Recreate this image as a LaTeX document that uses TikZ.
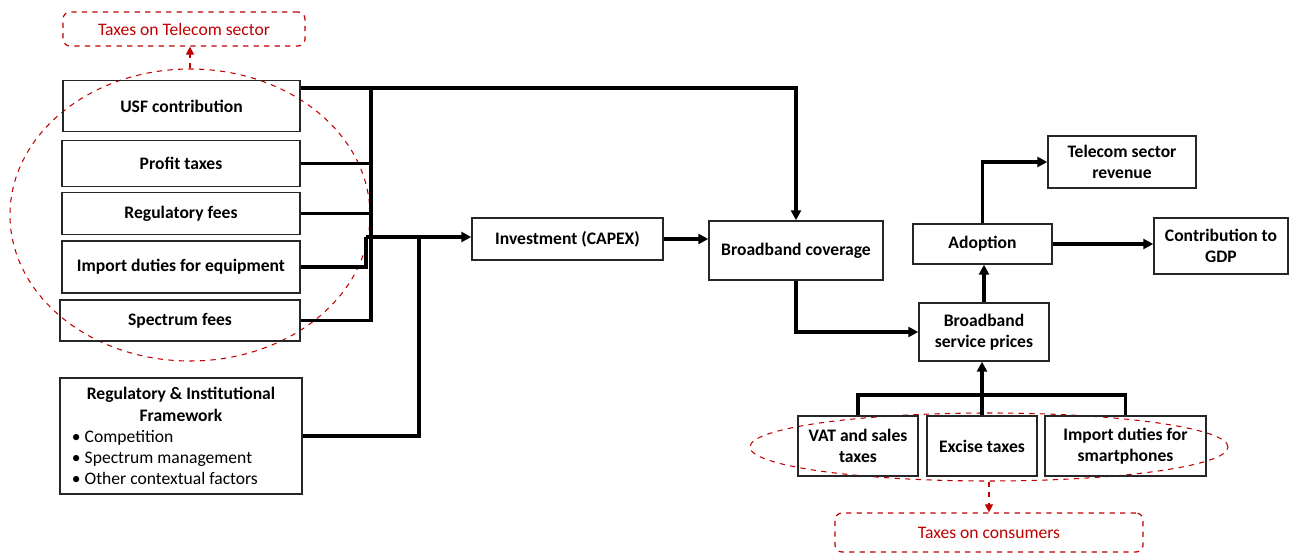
\documentclass[tikz,border=0pt]{standalone}
\usepackage{fontspec}
\setmainfont{Carlito}
\usepackage{xcolor}
\usepackage{tikz}
\usetikzlibrary{positioning,arrows.meta,shapes.geometric,calc}
\definecolor{taxred}{HTML}{C00000}
\definecolor{boxline}{HTML}{262626}
\tikzset{
  box/.style={rectangle, draw=boxline, line width=0.8pt, align=center,
              inner sep=0pt, font=\fontsize{10}{12}\selectfont\bfseries},
  tag/.style={rectangle, rounded corners=4pt, draw=taxred, dashed,
              line width=0.7pt, inner sep=0pt, text=taxred,
              font=\fontsize{10}{12}\selectfont},
  ring/.style={ellipse, draw=taxred, dashed, line width=0.6pt, inner sep=0pt},
  link/.style={line width=2.1pt, draw=black},
  arr/.style={-{Triangle[length=2mm,width=2mm]}, line width=2.1pt, draw=black},
  tagarr/.style={-{Triangle[length=1.6mm,width=1.6mm]}, line width=0.6pt,
                 draw=taxred, dashed},
}
\begin{document}
\begin{tikzpicture}[x=0.2mm, y=-0.2mm]
  \useasboundingbox (0,0) rectangle (1290,554);

  % taxes on the telecom sector
  \node[ring, minimum width=72mm, minimum height=58.4mm] (telcoell) at (190,215) {};
  \node[tag, minimum width=48.4mm, minimum height=6.8mm] (telcotax) at (184,29) {Taxes on Telecom sector};
  \node[box, minimum width=47.4mm, minimum height=10.2mm] (usf) at (181.5,106) {USF contribution};
  \node[box, minimum width=47.6mm, minimum height=9.2mm] (profit) at (181,163.5) {Profit taxes};
  \node[box, minimum width=47.6mm, minimum height=8.4mm] (regfees) at (181,213.5) {Regulatory fees};
  \node[box, minimum width=47.6mm, minimum height=10.4mm] (importeq) at (181,267) {Import duties for equipment};
  \node[box, minimum width=48mm, minimum height=8.2mm] (spectrum) at (180,320.5) {Spectrum fees};

  % framework
  \node[box, minimum width=48.4mm, minimum height=23.2mm, text width=43.6mm,
        inner xsep=2.4mm, align=left] (framework) at (181,436)
    {\spaceskip=0pt\xspaceskip=0pt
     \makebox[\linewidth]{Regulatory \& Institutional}\\
     \makebox[\linewidth]{Framework}\\
     {\mdseries \textbullet\ Competition\\
     \textbullet\ Spectrum management\\
     \textbullet\ Other contextual factors}};

  % main chain
  \node[box, minimum width=38.2mm, minimum height=8.4mm] (capex) at (567.5,239) {Investment (CAPEX)};
  \node[box, minimum width=34.8mm, minimum height=11.8mm] (coverage) at (796,250.5) {Broadband coverage};
  \node[box, minimum width=26mm, minimum height=11.6mm] (prices) at (984,332) {Broadband\\ service prices};
  \node[box, minimum width=27.8mm, minimum height=8mm] (adoption) at (982.5,244) {Adoption};
  \node[box, minimum width=29.6mm, minimum height=10.4mm] (revenue) at (1122,162) {Telecom sector\\ revenue};
  \node[box, minimum width=26.8mm, minimum height=11.2mm] (gdp) at (1221,246) {Contribution to\\ GDP};

  % taxes on consumers
  \node[ring, minimum width=95.6mm, minimum height=13.6mm] (consell) at (989,447) {};
  \node[box, minimum width=24mm, minimum height=12mm] (vat) at (858,446) {VAT and sales\\ taxes};
  \node[box, minimum width=22mm, minimum height=12mm] (excise) at (982,446) {Excise taxes};
  \node[box, minimum width=32.2mm, minimum height=12mm] (importsp) at (1125.5,446) {Import duties for\\ smartphones};
  \node[tag, minimum width=61.6mm, minimum height=7.8mm] (consumertax) at (989,532.5) {Taxes on consumers};

  % bus and joints
  \coordinate (bustop) at (371,88);
  \coordinate (busbot) at (371,322);
  \coordinate (join) at (366,237);
  \coordinate (fork) at (419,237);
  \coordinate (tbar) at (982,395);

  % connectors
  \draw[arr] (usf.east |- bustop) -| (coverage.north);
  \draw[link] (bustop) -- (busbot);
  \draw[link] (profit.east) -- (profit.east -| bustop);
  \draw[link] (regfees.east) -- (regfees.east -| bustop);
  \draw[link] (spectrum.east) -- (spectrum.east -| bustop);
  \draw[link] (importeq.east) -| (join);
  \draw[arr] (join) -- (join -| capex.west);
  \draw[link] (framework.east) -| (fork);
  \draw[arr] (capex.east) -- (capex.east -| coverage.west);
  \draw[arr] (coverage.south) |- (prices.west);
  \draw[arr] (prices.north) -- (prices.north |- adoption.south);
  \draw[arr] (adoption.north) |- (revenue.west);
  \draw[arr] (adoption.east) -- (adoption.east -| gdp.west);
  \draw[arr] (excise.north) -- (excise.north |- prices.south);
  \draw[link] (vat.north) |- (tbar) -| (importsp.north);

  % dashed pointers to the tags
  \draw[tagarr] (telcoell.north) -- (telcoell.north |- telcotax.south);
  \draw[tagarr] (consell.south) -- (consell.south |- consumertax.north);
\end{tikzpicture}
\end{document}
